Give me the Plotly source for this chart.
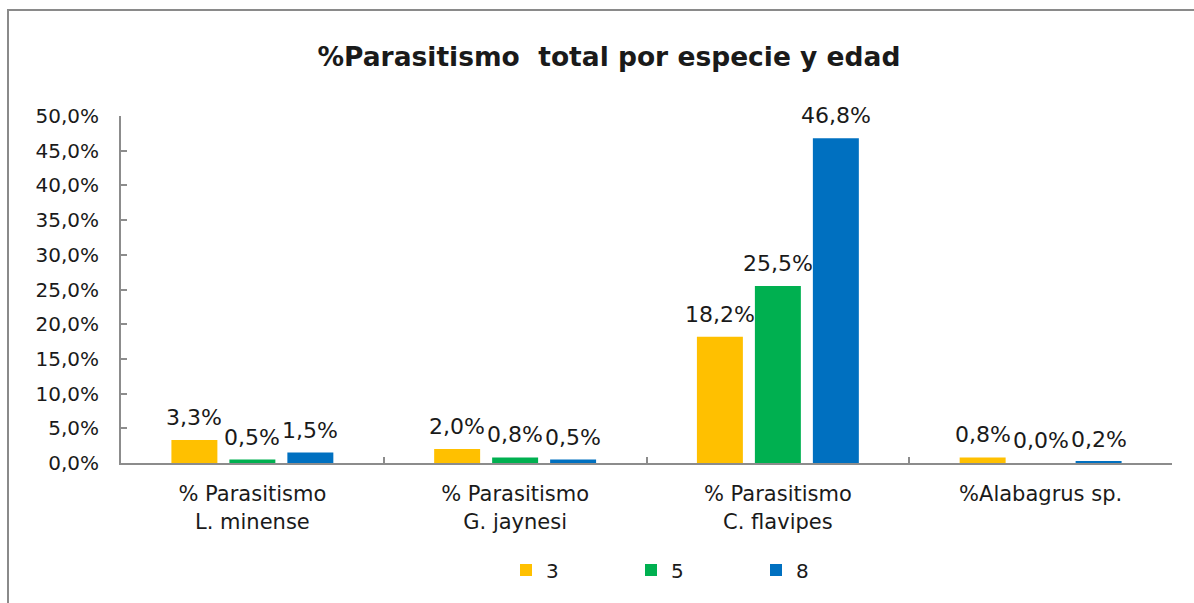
import plotly.graph_objects as go

# Categories (two-line labels) and parasitism percentages by age
categories = [
    "% Parasitismo<br>L. minense",
    "% Parasitismo<br>G. jaynesi",
    "% Parasitismo<br>C. flavipes",
    "%Alabagrus sp.",
]
edad_3 = [3.3, 2.0, 18.2, 0.8]
edad_5 = [0.5, 0.8, 25.5, 0.0]
edad_8 = [1.5, 0.5, 46.8, 0.2]
series_names = ["3", "5", "8"]
series_colors = ["#FFC000", "#00B050", "#0070C0"]
y_ticks = [0, 5, 10, 15, 20, 25, 30, 35, 40, 45, 50]
y_tick_text = [f"{v:.1f}%".replace(".", ",") for v in y_ticks]

W, H = 1194, 603
ML, MR, MT, MB = 121, 22, 116, 140
plot_w = W - ML - MR
plot_h = H - MT - MB
BARGAP = 0.338
BARGROUPGAP = 0.207

FONT = "DejaVu Sans, Liberation Sans, Arial, sans-serif"
TEXT = "#1a1a1a"
AXIS_GRAY = "#8C8C8C"

series_values = [edad_3, edad_5, edad_8]

fig = go.Figure()
for name, vals, color in zip(series_names, series_values, series_colors):
    fig.add_trace(go.Bar(
        name=name,
        x=categories,
        y=vals,
        marker=dict(color=color, line=dict(width=0)),
        hoverinfo="skip",
    ))

# Value labels above each bar, shifted to the bar's slot within its group
slot_px = plot_w / len(categories) * (1 - BARGAP) / len(series_values)
for i, vals in enumerate(series_values):
    shift = (i - (len(series_values) - 1) / 2) * slot_px
    for cat, v in zip(categories, vals):
        fig.add_annotation(
            x=cat, y=v, xref="x", yref="y",
            text=f"{v:.1f}%".replace(".", ","),
            showarrow=False, xanchor="center", yanchor="bottom",
            xshift=shift, yshift=8,
            font=dict(family=FONT, size=22, color=TEXT),
        )


def px_to_paper_x(px):
    return (px - ML) / plot_w


def px_to_paper_y(py):
    return (H - MB - py) / plot_h


# Outer chart frame (top and left edges visible)
fig.add_shape(
    type="rect", xref="paper", yref="paper",
    x0=px_to_paper_x(8), x1=px_to_paper_x(W + 20),
    y0=px_to_paper_y(H + 20), y1=px_to_paper_y(10),
    line=dict(color="#8A8A8A", width=2), fillcolor="rgba(0,0,0,0)",
    layer="below",
)

fig.update_layout(
    width=W, height=H,
    margin=dict(l=ML, r=MR, t=MT, b=MB, autoexpand=False),
    paper_bgcolor="white", plot_bgcolor="white",
    separators=",.",
    barmode="group",
    bargap=BARGAP,
    bargroupgap=BARGROUPGAP,
    font=dict(family=FONT, size=20, color=TEXT),
    title=dict(
        text="<b>%Parasitismo  total por especie y edad</b>",
        xref="container", x=0.51, xanchor="center",
        yref="container", y=1 - 57 / H, yanchor="middle",
        font=dict(family=FONT, size=26.5, color=TEXT),
    ),
    xaxis=dict(
        showline=True, linecolor=AXIS_GRAY, linewidth=2,
        ticks="inside", ticklen=6, tickcolor=AXIS_GRAY, tickwidth=2,
        tickson="boundaries",
        showgrid=False,
        tickfont=dict(family=FONT, size=21, color=TEXT),
        ticklabelstandoff=11,
    ),
    yaxis=dict(
        range=[0, 50],
        tickvals=y_ticks,
        ticktext=y_tick_text,
        showline=True, linecolor=AXIS_GRAY, linewidth=2,
        ticks="inside", ticklen=6, tickcolor=AXIS_GRAY, tickwidth=2,
        showgrid=False, zeroline=False,
        tickfont=dict(family=FONT, size=20, color=TEXT),
        ticklabelstandoff=16,
    ),
    legend=dict(
        orientation="h",
        x=px_to_paper_x(506), xanchor="left",
        y=px_to_paper_y(570), yanchor="middle",
        entrywidth=80, entrywidthmode="pixels",
        font=dict(family=FONT, size=20, color=TEXT),
        itemclick=False, itemdoubleclick=False,
        bgcolor="rgba(0,0,0,0)",
    ),
    showlegend=True,
)

fig.write_html("out.html")
